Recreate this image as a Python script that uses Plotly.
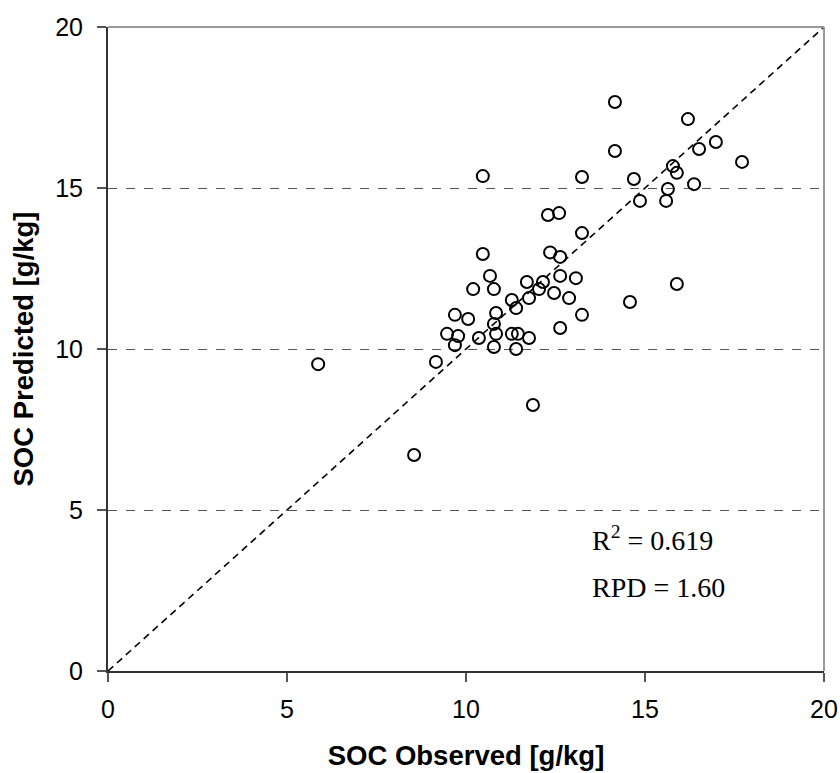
import plotly.graph_objects as go

observed = [5.87, 8.55, 9.16, 9.47, 9.69, 9.69, 9.78, 10.06, 10.20, 10.36,
            10.47, 10.47, 10.67, 10.78, 10.78, 10.78, 10.84, 10.84, 11.28, 11.28,
            11.40, 11.40, 11.45, 11.70, 11.76, 11.76, 11.87, 12.04, 12.15, 12.29,
            12.35, 12.46, 12.60, 12.63, 12.63, 12.63, 12.88, 13.07, 13.24, 13.24,
            13.24, 14.16, 14.16, 14.58, 14.69, 14.86, 15.59, 15.64, 15.78, 15.89,
            15.89, 16.20, 16.37, 16.51, 16.98, 17.71]
predicted = [9.53, 6.71, 9.60, 10.47, 11.06, 10.12, 10.40, 10.93, 11.86, 10.34,
             12.95, 15.37, 12.27, 11.86, 10.78, 10.06, 11.12, 10.47, 11.52, 10.47,
             11.27, 10.00, 10.47, 12.08, 11.58, 10.34, 8.26, 11.86, 12.08, 14.16,
             13.00, 11.74, 14.22, 12.86, 12.27, 10.65, 11.58, 12.20, 13.60, 11.06,
             15.34, 17.67, 16.15, 11.46, 15.28, 14.60, 14.60, 14.97, 15.68, 15.47,
             12.02, 17.14, 15.12, 16.21, 16.43, 15.81]

line_x = [0, 20]
line_y = [0, 20]
ticks = [0, 5, 10, 15, 20]

fig = go.Figure()
fig.add_trace(go.Scatter(x=line_x, y=line_y, mode="lines",
                         line=dict(color="black", width=1.6, dash="7px,5px"),
                         hoverinfo="skip", showlegend=False))
fig.add_trace(go.Scatter(x=observed, y=predicted, mode="markers",
                         marker=dict(symbol="circle-open", size=12, color="black",
                                     line=dict(width=2, color="black")),
                         showlegend=False))

serif = "Liberation Serif, Times New Roman, serif"
fig.update_layout(
    width=840, height=773,
    margin=dict(l=108, r=16, t=27, b=102),
    plot_bgcolor="white", paper_bgcolor="white",
    font=dict(family="Liberation Sans, Arial", size=25, color="black"),
    xaxis=dict(range=[0, 20], tickvals=ticks, showgrid=False, zeroline=False,
               automargin=False,
               showline=True, linecolor="#333333", linewidth=2,
               ticks="outside", ticklen=9, tickcolor="#555555", tickwidth=1.5,
               tickfont=dict(size=25), ticklabelstandoff=6,
               title=dict(text="<b>SOC Observed [g/kg]</b>", font=dict(size=27.5), standoff=24)),
    yaxis=dict(range=[0, 20], tickvals=ticks, showgrid=True, gridcolor="#555555",
               griddash="dash", gridwidth=1, zeroline=False,
               automargin=False,
               showline=True, linecolor="#333333", linewidth=2,
               ticks="outside", ticklen=9, tickcolor="#555555", tickwidth=1.5,
               tickfont=dict(size=25), ticklabelstandoff=9,
               title=dict(text="<b>SOC Predicted [g/kg]</b>", font=dict(size=27.5), standoff=14)),
    shapes=[
        dict(type="line", xref="paper", yref="paper", x0=0, x1=1, y0=1, y1=1,
             line=dict(color="#999999", width=2), layer="above"),
        dict(type="line", xref="paper", yref="paper", x0=1, x1=1, y0=0, y1=1,
             line=dict(color="#999999", width=2), layer="above"),
    ],
    annotations=[
        dict(x=13.45, y=4.1, xref="x", yref="y", xanchor="left", yanchor="middle",
             text="R<sup style='font-size:55%'>2</sup> = 0.619", showarrow=False,
             font=dict(family=serif, size=28, color="black")),
        dict(x=13.45, y=2.6, xref="x", yref="y", xanchor="left", yanchor="middle",
             text="RPD = 1.60", showarrow=False,
             font=dict(family=serif, size=28, color="black")),
    ],
)

fig.write_html("out.html")
